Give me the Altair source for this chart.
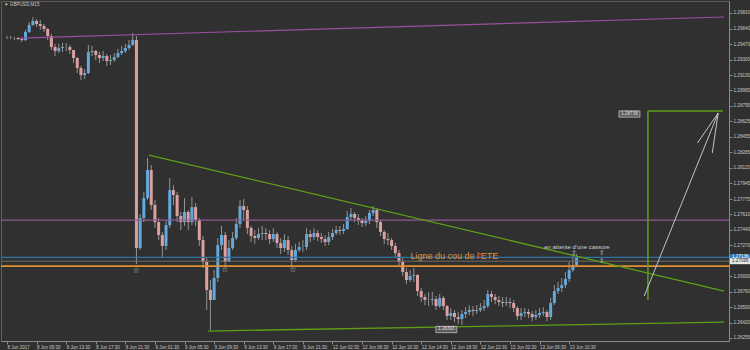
import altair as alt
import pandas as pd

# ---------------- data ----------------
x_labels = ["8 Jun 2017", "8 Jun 09:30", "8 Jun 13:30", "8 Jun 17:30", "8 Jun 21:30",
            "9 Jun 01:30", "9 Jun 05:30", "9 Jun 09:30", "9 Jun 13:30", "9 Jun 17:30",
            "9 Jun 21:30", "12 Jun 02:30", "12 Jun 06:30", "12 Jun 10:30", "12 Jun 14:30",
            "12 Jun 18:30", "12 Jun 22:30", "13 Jun 02:30", "13 Jun 06:30", "13 Jun 10:30"]
bars_per_label = 8

y_ticks = [1.29810, 1.29640, 1.29470, 1.29300, 1.29130, 1.28965, 1.28795, 1.28625,
           1.28455, 1.28285, 1.28115, 1.27945, 1.27775, 1.27610, 1.27440, 1.27270,
           1.26930, 1.26760, 1.26590, 1.26420, 1.26255]

first_open = 1.29536
closes = [
    1.29536, 1.29536, 1.29536, 1.29525, 1.29514, 1.29602, 1.29678, 1.29722, 1.29689, 1.29668,
    1.29635, 1.29558, 1.29438, 1.29394, 1.29427, 1.29438, 1.29438, 1.29405, 1.29317, 1.29208,
    1.29131, 1.29153, 1.29383, 1.29394, 1.29350, 1.29317, 1.29339, 1.29285, 1.29296, 1.29328,
    1.29372, 1.29394, 1.29427, 1.29460, 1.29514, 1.27239, 1.27567, 1.27786, 1.28092, 1.27709,
    1.27523, 1.27381, 1.27261, 1.27490, 1.27873, 1.27819, 1.27589, 1.27523, 1.27633, 1.27523,
    1.27687, 1.27545, 1.27326, 1.27086, 1.26779, 1.26670, 1.26911, 1.27272, 1.27381, 1.27086,
    1.27239, 1.27348, 1.27501, 1.27698, 1.27655, 1.27458, 1.27370, 1.27348, 1.27392, 1.27403,
    1.27392, 1.27337, 1.27392, 1.27294, 1.27239, 1.27326, 1.27217, 1.27108, 1.27217, 1.27250,
    1.27250, 1.27392, 1.27359, 1.27403, 1.27359, 1.27337, 1.27305, 1.27359, 1.27403, 1.27436,
    1.27425, 1.27447, 1.27578, 1.27611, 1.27567, 1.27545, 1.27512, 1.27534, 1.27622, 1.27655,
    1.27523, 1.27414, 1.27337, 1.27326, 1.27261, 1.27184, 1.27086, 1.26976, 1.26889, 1.26933,
    1.26943, 1.26768, 1.26703, 1.26670, 1.26670, 1.26681, 1.26604, 1.26692, 1.26604, 1.26495,
    1.26528, 1.26484, 1.26462, 1.26517, 1.26539, 1.26561, 1.26550, 1.26561, 1.26582, 1.26604,
    1.26736, 1.26703, 1.26670, 1.26648, 1.26637, 1.26648, 1.26637, 1.26582, 1.26495, 1.26528,
    1.26539, 1.26517, 1.26484, 1.26506, 1.26528, 1.26539, 1.26484, 1.26637, 1.26768, 1.26801,
    1.26834, 1.26900, 1.26998, 1.27053, 1.27136]
highs = [
    1.29558, 1.29558, 1.29547, 1.29547, 1.29536, 1.29624, 1.29711, 1.29766, 1.29744, 1.29733,
    1.29689, 1.29646, 1.29580, 1.29471, 1.29471, 1.29482, 1.29482, 1.29460, 1.29405, 1.29328,
    1.29230, 1.29197, 1.29460, 1.29449, 1.29405, 1.29383, 1.29394, 1.29361, 1.29350, 1.29372,
    1.29416, 1.29449, 1.29471, 1.29514, 1.29591, 1.29558, 1.27611, 1.27852, 1.28223, 1.28147,
    1.27764, 1.27567, 1.27414, 1.27545, 1.28005, 1.27928, 1.27852, 1.27633, 1.27786, 1.27655,
    1.27797, 1.27731, 1.27567, 1.27370, 1.27129, 1.26889, 1.26998, 1.27348, 1.27480, 1.27414,
    1.27326, 1.27414, 1.27567, 1.27764, 1.27775, 1.27698, 1.27480, 1.27436, 1.27458, 1.27480,
    1.27458, 1.27436, 1.27458, 1.27414, 1.27348, 1.27392, 1.27370, 1.27261, 1.27283, 1.27305,
    1.27326, 1.27458, 1.27436, 1.27458, 1.27436, 1.27403, 1.27381, 1.27414, 1.27447, 1.27480,
    1.27480, 1.27501, 1.27644, 1.27676, 1.27633, 1.27611, 1.27567, 1.27589, 1.27655, 1.27698,
    1.27676, 1.27545, 1.27436, 1.27403, 1.27348, 1.27294, 1.27217, 1.27129, 1.27020, 1.26998,
    1.27020, 1.26954, 1.26801, 1.26736, 1.26758, 1.26758, 1.26714, 1.26736, 1.26714, 1.26615,
    1.26582, 1.26561, 1.26539, 1.26561, 1.26593, 1.26615, 1.26604, 1.26615, 1.26637, 1.26670,
    1.26779, 1.26768, 1.26736, 1.26714, 1.26703, 1.26703, 1.26692, 1.26670, 1.26604, 1.26582,
    1.26582, 1.26572, 1.26550, 1.26561, 1.26582, 1.26593, 1.26561, 1.26692, 1.26834, 1.26867,
    1.26911, 1.26976, 1.27086, 1.27173, 1.27173]
lows = [
    1.29525, 1.29525, 1.29514, 1.29514, 1.29493, 1.29503, 1.29591, 1.29668, 1.29657, 1.29624,
    1.29602, 1.29514, 1.29405, 1.29339, 1.29372, 1.29383, 1.29394, 1.29361, 1.29263, 1.29153,
    1.29077, 1.29088, 1.29142, 1.29339, 1.29296, 1.29263, 1.29285, 1.29230, 1.29241, 1.29274,
    1.29317, 1.29350, 1.29372, 1.29405, 1.29449, 1.27064, 1.27217, 1.27523, 1.27764, 1.27655,
    1.27458, 1.27326, 1.27129, 1.27217, 1.27458, 1.27709, 1.27523, 1.27436, 1.27480, 1.27436,
    1.27490, 1.27480, 1.27261, 1.27020, 1.26561, 1.26342, 1.26670, 1.26867, 1.27217, 1.27042,
    1.27086, 1.27217, 1.27326, 1.27458, 1.27545, 1.27392, 1.27305, 1.27283, 1.27326, 1.27326,
    1.27326, 1.27283, 1.27305, 1.27239, 1.27173, 1.27195, 1.27162, 1.27042, 1.27086, 1.27195,
    1.27195, 1.27217, 1.27305, 1.27326, 1.27315, 1.27294, 1.27261, 1.27272, 1.27326, 1.27381,
    1.27381, 1.27392, 1.27436, 1.27545, 1.27523, 1.27490, 1.27469, 1.27480, 1.27501, 1.27589,
    1.27458, 1.27370, 1.27283, 1.27272, 1.27217, 1.27129, 1.27042, 1.26933, 1.26845, 1.26867,
    1.26867, 1.26714, 1.26648, 1.26615, 1.26604, 1.26615, 1.26561, 1.26582, 1.26561, 1.26451,
    1.26451, 1.26429, 1.26407, 1.26396, 1.26473, 1.26506, 1.26495, 1.26517, 1.26539, 1.26550,
    1.26582, 1.26648, 1.26626, 1.26604, 1.26593, 1.26604, 1.26582, 1.26539, 1.26451, 1.26451,
    1.26484, 1.26473, 1.26440, 1.26451, 1.26473, 1.26495, 1.26440, 1.26451, 1.26615, 1.26736,
    1.26758, 1.26801, 1.26867, 1.26976, 1.27031]

# horizontal levels (price)
level_prices = [1.27545, 1.27136, 1.27095, 1.27042]
level_colors = ["#8e5a92", "#2d73a8", "#6c6c6c", "#e0902e"]
level_widths = [1.3, 1.2, 1.0, 1.8]

# drawn objects: segments (bar index, price) -> (bar index, price)
trend_segments = [
    (3.5, 1.29536, 193.9, 1.29766, "#9a4fa0", 1.2),
    (38.4, 1.28256, 193.9, 1.26768, "#5f9e16", 1.3),
    (54.4, 1.26331, 193.9, 1.26429, "#5f9e16", 1.3),
    (173.3, 1.26670, 173.3, 1.28738, "#5f9e16", 1.5),
    (173.3, 1.28738, 193.6, 1.28738, "#5f9e16", 1.5),
    (172.3, 1.26714, 192.3, 1.28716, "#c4c4c4", 1.0),
    (192.3, 1.28716, 186.7, 1.28388, "#c4c4c4", 1.0),
    (192.3, 1.28716, 190.7, 1.28278, "#c4c4c4", 1.0),
]

star_pos = [(34.9, 1.26987), (58.9, 1.26998), (77.3, 1.26998)]
arrow_pos = [(153.3, 1.27184), (160.8, 1.27184), (160.8, 1.27097)]

# ---------------- frames ----------------
opens = [first_open] + closes[:-1]
n = len(closes)
candles = pd.DataFrame({
    "i": list(range(n)),
    "open": opens, "close": closes, "high": highs, "low": lows,
})
candles["dir"] = ["up" if c >= o else "down" for o, c in zip(opens, closes)]

levels = pd.DataFrame({"p": level_prices, "c": level_colors, "w": level_widths})
segs = pd.DataFrame(trend_segments, columns=["i", "p", "i2", "p2", "c", "w"])
stars = pd.DataFrame(star_pos, columns=["i", "p"])
arrows = pd.DataFrame(arrow_pos, columns=["i", "p"])

xs = alt.Scale(domain=[-0.27, 193.87], nice=False, zero=False)
ys = alt.Scale(domain=[1.26222, 1.29941], nice=False, zero=False)

AX = "#8a8a8a"
LBL = "#c8c8c8"
FONT = "Liberation Sans"

tick_vals = [k * bars_per_label for k in range(len(x_labels))]
label_expr = "[" + ",".join("'" + s + "'" for s in x_labels) + "][round(datum.value/%d)]" % bars_per_label

x_axis = alt.Axis(values=tick_vals, labelExpr=label_expr, labelAlign="left", labelFontSize=4.5,
                  labelFont=FONT, labelColor=LBL, tickColor=AX, domainColor=AX, tickSize=3,
                  labelPadding=0, grid=False, title=None, labelOverlap=False, labelFlush=False,
                  labelBaseline="top")
y_axis = alt.Axis(orient="right", values=y_ticks, format=".5f", labelFontSize=4.6, labelFont=FONT,
                  labelColor=LBL, tickColor=AX, domainColor=AX, tickSize=3, labelPadding=1,
                  grid=False, title=None, labelOverlap=False, labelAlign="left", labelFlush=False)


def XQ(f="i"):
    return alt.X(f + ":Q", scale=xs, axis=x_axis)


def YQ(f="p"):
    return alt.Y(f + ":Q", scale=ys, axis=y_axis)


wicks = alt.Chart(candles).mark_rule(color="#949494", strokeWidth=1).encode(
    x=XQ(), y=YQ("low"), y2="high:Q")

bodies = alt.Chart(candles).mark_bar(width=3).encode(
    x=XQ(), y=YQ("open"), y2="close:Q",
    color=alt.Color("dir:N", scale=alt.Scale(domain=["up", "down"], range=["#62aade", "#dba0a0"]), legend=None),
)

hlines = alt.Chart(levels).mark_rule().encode(
    y=YQ(), color=alt.Color("c:N", scale=None), strokeWidth=alt.StrokeWidth("w:Q", scale=None))

seg_layer = alt.Chart(segs).mark_rule().encode(
    x=XQ(), y=YQ(), x2="i2:Q", y2="p2:Q",
    color=alt.Color("c:N", scale=None), strokeWidth=alt.StrokeWidth("w:Q", scale=None))

star_layer = alt.Chart(stars).mark_text(text="☆", fontSize=8, color="#d0d0d0", font="DejaVu Sans").encode(
    x=XQ(), y=YQ())
arrow_layer = alt.Chart(arrows).mark_text(text="⇧", fontSize=6.5, color="#d0d0d0", font="DejaVu Sans").encode(
    x=XQ(), y=YQ())

neck_text = alt.Chart(pd.DataFrame({"i": [109.1], "p": [1.27151], "t": ["Ligne du cou de l'ETE"]})).mark_text(
    align="left", baseline="middle", fontSize=9, font=FONT, color="#e0903a").encode(
    x=XQ(), y=YQ(), text="t:N")

wait_text = alt.Chart(pd.DataFrame({"i": [154.1], "p": [1.27250], "t": ["en attente d'une cassure"]})).mark_text(
    align="center", baseline="middle", fontSize=6, font=FONT, color="#d0d0d0").encode(
    x=XQ(), y=YQ(), text="t:N")

box_shape = "M-1,-0.3L1,-0.3L1,0.3L-1,0.3Z"
plabels = pd.DataFrame({"i": [168.3, 118.8], "p": [1.28705, 1.26348], "t": ["1.28738", "1.26393"]})
plabel_box = alt.Chart(plabels).mark_point(shape=box_shape, size=440, filled=True, fill="#5a5a5a",
                                           stroke="#bdbdbd", strokeWidth=0.8, opacity=1).encode(
    x=XQ(), y=YQ())
plabel_txt = alt.Chart(plabels).mark_text(fontSize=4.6, font=FONT, color="#e0e0e0").encode(
    x=XQ(), y=YQ(), text="t:N")

alabels = pd.DataFrame({"p": [1.27136, 1.27095], "t": ["1.27136", "1.27095"],
                        "bg": ["#2d7fc4", "#e6e6e6"], "fg": ["#ffffff", "#202020"]})
alabel_box = alt.Chart(alabels).mark_point(shape=box_shape, size=400, filled=True, opacity=1).encode(
    x=alt.value(739), y=YQ(), fill=alt.Fill("bg:N", scale=None))
alabel_txt = alt.Chart(alabels).mark_text(fontSize=4.6, font=FONT, align="left").encode(
    x=alt.value(731), y=YQ(), text="t:N", color=alt.Color("fg:N", scale=None))

title_txt = alt.Chart(pd.DataFrame({"t": ["▼ GBPUSD,M15"]})).mark_text(
    align="left", baseline="middle", fontSize=4.6, font=FONT, color=LBL).encode(
    x=alt.value(3), y=alt.value(4), text="t:N")

chart = alt.layer(
    wicks, bodies, hlines, seg_layer, star_layer, arrow_layer, neck_text, wait_text,
    plabel_box, plabel_txt, alabel_box, alabel_txt, title_txt
).properties(
    width=728, height=340,
    padding={"left": 1, "top": 1, "right": 21, "bottom": 9},
    autosize=alt.AutoSizeParams(type="none"),
    background="#303030",
).configure_view(stroke="#5c5c5c", fill="#303030").configure_axis(labelOverlap=False)

chart.save("out.html", embed_options={"renderer": "svg", "actions": False})
